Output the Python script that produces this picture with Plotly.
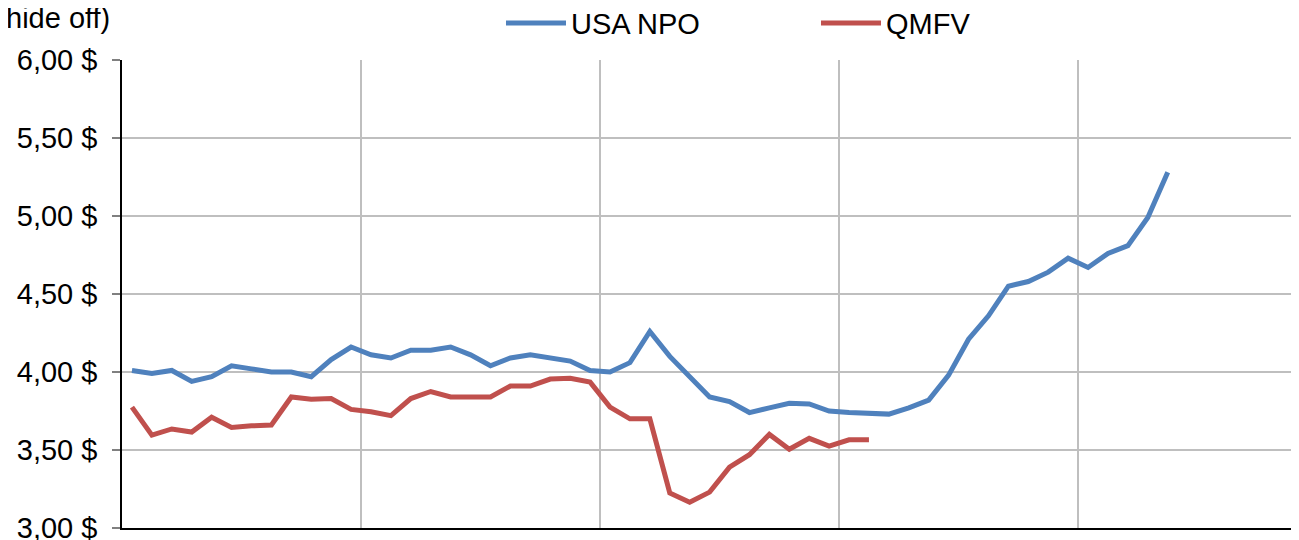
import plotly.graph_objects as go

usa_npo = [4.01, 3.99, 4.01, 3.94, 3.97, 4.04, 4.02, 4.00, 4.00, 3.97,
           4.08, 4.16, 4.11, 4.09, 4.14, 4.14, 4.16, 4.11, 4.04, 4.09,
           4.11, 4.09, 4.07, 4.01, 4.00, 4.06, 4.26, 4.10, 3.97, 3.84,
           3.81, 3.74, 3.77, 3.80, 3.795, 3.75, 3.74, 3.735, 3.73, 3.77,
           3.82, 3.98, 4.21, 4.36, 4.55, 4.58, 4.64, 4.73, 4.67, 4.76,
           4.81, 4.99, 5.28]
qmfv = [3.775, 3.595, 3.635, 3.615, 3.71, 3.645, 3.655, 3.66, 3.84, 3.825,
        3.83, 3.76, 3.745, 3.72, 3.83, 3.875, 3.84, 3.84, 3.84, 3.91,
        3.91, 3.955, 3.96, 3.935, 3.775, 3.70, 3.70, 3.225, 3.165, 3.23,
        3.39, 3.47, 3.60, 3.505, 3.575, 3.525, 3.565, 3.565]
y_ticks = [3.0, 3.5, 4.0, 4.5, 5.0, 5.5, 6.0]
y_tick_labels = ["3,00 $", "3,50 $", "4,00 $", "4,50 $", "5,00 $", "5,50 $", "6,00 $"]
x_grid = [11.5, 23.5, 35.5, 47.5]
title_text = "hide off)"

FONT = "Liberation Sans, Arial, sans-serif"

fig = go.Figure()
fig.add_trace(go.Scatter(x=list(range(len(usa_npo))), y=usa_npo, mode="lines",
                         name="USA NPO", line=dict(color="#4F81BD", width=5)))
fig.add_trace(go.Scatter(x=list(range(len(qmfv))), y=qmfv, mode="lines",
                         name="QMFV", line=dict(color="#C0504D", width=5)))

fig.update_layout(
    width=1291, height=552,
    margin=dict(l=114, r=0, t=52, b=32, autoexpand=False),
    paper_bgcolor="white", plot_bgcolor="white",
    font=dict(family=FONT, size=29, color="black"),
    showlegend=True,
    legend=dict(orientation="h", x=0.322, xanchor="left", y=1.079, yanchor="middle",
                font=dict(family=FONT, size=29, color="black"),
                itemwidth=60, entrywidth=240, entrywidthmode="pixels",
                bgcolor="rgba(0,0,0,0)"),
    annotations=[dict(text=title_text, x=0, xref="paper", xshift=-118, y=1.0, yref="paper",
                      yshift=42, xanchor="left", yanchor="middle", showarrow=False,
                      font=dict(family=FONT, size=29, color="black"))],
)
fig.update_xaxes(range=[-0.5, 58.59], tickmode="array", tickvals=x_grid,
                 showticklabels=False, showgrid=True, gridcolor="#BFBFBF", gridwidth=2,
                 showline=True, linecolor="black", linewidth=1.5, zeroline=False, ticks="")
fig.update_yaxes(range=[3.0, 6.0], tickmode="array", tickvals=y_ticks, ticktext=y_tick_labels,
                 showgrid=True, gridcolor="#BFBFBF", gridwidth=2,
                 showline=True, linecolor="black", linewidth=1.5, zeroline=False,
                 ticks="outside", ticklen=8, tickcolor="#808080", tickwidth=1.5,
                 ticklabelstandoff=9)

fig.write_html("out.html")
